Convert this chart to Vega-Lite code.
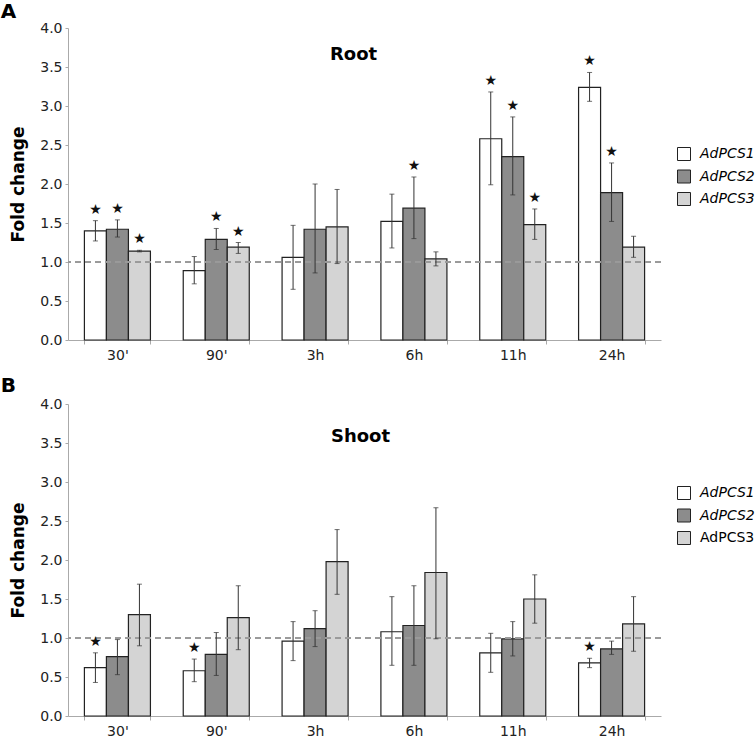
{
  "$schema": "https://vega.github.io/schema/vega-lite/v6.json",
  "padding": {"left": 0, "top": 2, "right": 0, "bottom": 0},
  "spacing": 14,
  "datasets": {
    "fc": [
      {"panel": "Root", "time": "30'", "gene": "AdPCS1", "value": 1.40, "lo": 1.27, "hi": 1.53, "sig": true},
      {"panel": "Root", "time": "30'", "gene": "AdPCS2", "value": 1.42, "lo": 1.32, "hi": 1.54, "sig": true},
      {"panel": "Root", "time": "30'", "gene": "AdPCS3", "value": 1.14, "lo": 1.13, "hi": 1.15, "sig": true},
      {"panel": "Root", "time": "90'", "gene": "AdPCS1", "value": 0.89, "lo": 0.72, "hi": 1.07, "sig": false},
      {"panel": "Root", "time": "90'", "gene": "AdPCS2", "value": 1.29, "lo": 1.16, "hi": 1.43, "sig": true},
      {"panel": "Root", "time": "90'", "gene": "AdPCS3", "value": 1.19, "lo": 1.11, "hi": 1.25, "sig": true},
      {"panel": "Root", "time": "3h", "gene": "AdPCS1", "value": 1.06, "lo": 0.65, "hi": 1.47, "sig": false},
      {"panel": "Root", "time": "3h", "gene": "AdPCS2", "value": 1.42, "lo": 0.86, "hi": 2.00, "sig": false},
      {"panel": "Root", "time": "3h", "gene": "AdPCS3", "value": 1.45, "lo": 0.98, "hi": 1.93, "sig": false},
      {"panel": "Root", "time": "6h", "gene": "AdPCS1", "value": 1.52, "lo": 1.18, "hi": 1.87, "sig": false},
      {"panel": "Root", "time": "6h", "gene": "AdPCS2", "value": 1.69, "lo": 1.30, "hi": 2.09, "sig": true},
      {"panel": "Root", "time": "6h", "gene": "AdPCS3", "value": 1.04, "lo": 0.95, "hi": 1.13, "sig": false},
      {"panel": "Root", "time": "11h", "gene": "AdPCS1", "value": 2.58, "lo": 1.99, "hi": 3.18, "sig": true},
      {"panel": "Root", "time": "11h", "gene": "AdPCS2", "value": 2.35, "lo": 1.86, "hi": 2.86, "sig": true},
      {"panel": "Root", "time": "11h", "gene": "AdPCS3", "value": 1.48, "lo": 1.29, "hi": 1.68, "sig": true},
      {"panel": "Root", "time": "24h", "gene": "AdPCS1", "value": 3.24, "lo": 3.06, "hi": 3.43, "sig": true},
      {"panel": "Root", "time": "24h", "gene": "AdPCS2", "value": 1.89, "lo": 1.52, "hi": 2.27, "sig": true},
      {"panel": "Root", "time": "24h", "gene": "AdPCS3", "value": 1.19, "lo": 1.06, "hi": 1.33, "sig": false},
      {"panel": "Shoot", "time": "30'", "gene": "AdPCS1", "value": 0.62, "lo": 0.43, "hi": 0.81, "sig": true},
      {"panel": "Shoot", "time": "30'", "gene": "AdPCS2", "value": 0.76, "lo": 0.53, "hi": 0.98, "sig": false},
      {"panel": "Shoot", "time": "30'", "gene": "AdPCS3", "value": 1.30, "lo": 0.90, "hi": 1.69, "sig": false},
      {"panel": "Shoot", "time": "90'", "gene": "AdPCS1", "value": 0.58, "lo": 0.44, "hi": 0.73, "sig": true},
      {"panel": "Shoot", "time": "90'", "gene": "AdPCS2", "value": 0.79, "lo": 0.52, "hi": 1.07, "sig": false},
      {"panel": "Shoot", "time": "90'", "gene": "AdPCS3", "value": 1.26, "lo": 0.85, "hi": 1.67, "sig": false},
      {"panel": "Shoot", "time": "3h", "gene": "AdPCS1", "value": 0.96, "lo": 0.71, "hi": 1.21, "sig": false},
      {"panel": "Shoot", "time": "3h", "gene": "AdPCS2", "value": 1.12, "lo": 0.89, "hi": 1.35, "sig": false},
      {"panel": "Shoot", "time": "3h", "gene": "AdPCS3", "value": 1.98, "lo": 1.56, "hi": 2.39, "sig": false},
      {"panel": "Shoot", "time": "6h", "gene": "AdPCS1", "value": 1.08, "lo": 0.65, "hi": 1.53, "sig": false},
      {"panel": "Shoot", "time": "6h", "gene": "AdPCS2", "value": 1.16, "lo": 0.65, "hi": 1.67, "sig": false},
      {"panel": "Shoot", "time": "6h", "gene": "AdPCS3", "value": 1.84, "lo": 0.99, "hi": 2.67, "sig": false},
      {"panel": "Shoot", "time": "11h", "gene": "AdPCS1", "value": 0.81, "lo": 0.56, "hi": 1.06, "sig": false},
      {"panel": "Shoot", "time": "11h", "gene": "AdPCS2", "value": 0.99, "lo": 0.77, "hi": 1.21, "sig": false},
      {"panel": "Shoot", "time": "11h", "gene": "AdPCS3", "value": 1.50, "lo": 1.19, "hi": 1.81, "sig": false},
      {"panel": "Shoot", "time": "24h", "gene": "AdPCS1", "value": 0.68, "lo": 0.62, "hi": 0.74, "sig": true},
      {"panel": "Shoot", "time": "24h", "gene": "AdPCS2", "value": 0.86, "lo": 0.79, "hi": 0.96, "sig": false},
      {"panel": "Shoot", "time": "24h", "gene": "AdPCS3", "value": 1.18, "lo": 0.83, "hi": 1.53, "sig": false}
    ]
  },
  "vconcat": [
    {
      "title": {"text": "A", "anchor": "start", "fontSize": 20, "fontWeight": "bold", "color": "#000", "dx": -9, "offset": -1},
      "vconcat": [
        {
          "width": 593,
          "height": 312,
          "title": {"text": "Root", "fontSize": 18, "fontWeight": "bold", "color": "#000", "offset": -43, "dx": -11},
          "data": {"name": "fc"},
          "transform": [{"filter": "datum.panel == 'Root'"}],
          "encoding": {
            "x": {"field": "time", "type": "nominal", "sort": ["30'", "90'", "3h", "6h", "11h", "24h"],
                  "scale": {"paddingInner": 0.332, "paddingOuter": 0.166},
                  "axis": {"title": null, "labelAngle": 0, "tickBand": "extent", "tickSize": 4, "labelPadding": 4}},
            "xOffset": {"field": "gene", "type": "nominal", "scale": {"paddingInner": 0, "paddingOuter": 0}}
          },
          "layer": [
            {
              "mark": {"type": "bar", "stroke": "#222", "strokeWidth": 1.2},
              "encoding": {
                "y": {"field": "value", "type": "quantitative", "scale": {"domain": [0, 4]},
                      "axis": {"title": "Fold change", "values": [0, 0.5, 1, 1.5, 2, 2.5, 3, 3.5, 4], "format": ".1f", "tickSize": 3, "labelPadding": 3, "titlePadding": 12}},
                "fill": {"field": "gene", "type": "nominal",
                         "scale": {"domain": ["AdPCS1", "AdPCS2", "AdPCS3"], "range": ["#ffffff", "#8c8c8c", "#d4d4d4"]},
                         "legend": {"title": null, "orient": "none", "legendX": 609, "legendY": 119, "labelFontStyle": "italic"}}
              }
            },
            {
              "mark": {"type": "rule", "color": "#9a9a9a", "strokeDash": [6, 4], "strokeWidth": 1},
              "encoding": {"y": {"datum": 1, "type": "quantitative", "axis": {"title": "Fold change", "values": [0, 0.5, 1, 1.5, 2, 2.5, 3, 3.5, 4], "format": ".1f", "tickSize": 3, "labelPadding": 3, "titlePadding": 12}}, "x": null, "xOffset": null}
            },
            {
              "mark": {"type": "rule", "color": "#333", "strokeWidth": 1},
              "encoding": {"y": {"field": "lo", "type": "quantitative", "axis": {"title": "Fold change", "values": [0, 0.5, 1, 1.5, 2, 2.5, 3, 3.5, 4], "format": ".1f", "tickSize": 3, "labelPadding": 3, "titlePadding": 12}}, "y2": {"field": "hi"}}
            },
            {
              "mark": {"type": "tick", "color": "#333", "size": 5, "thickness": 1},
              "encoding": {"y": {"field": "lo", "type": "quantitative", "axis": {"title": "Fold change", "values": [0, 0.5, 1, 1.5, 2, 2.5, 3, 3.5, 4], "format": ".1f", "tickSize": 3, "labelPadding": 3, "titlePadding": 12}}}
            },
            {
              "mark": {"type": "tick", "color": "#333", "size": 5, "thickness": 1},
              "encoding": {"y": {"field": "hi", "type": "quantitative", "axis": {"title": "Fold change", "values": [0, 0.5, 1, 1.5, 2, 2.5, 3, 3.5, 4], "format": ".1f", "tickSize": 3, "labelPadding": 3, "titlePadding": 12}}}
            },
            {
              "transform": [{"filter": "datum.sig"}],
              "mark": {"type": "text", "text": "★", "fontSize": 14, "baseline": "bottom", "dy": -4, "color": "#111"},
              "encoding": {"y": {"field": "hi", "type": "quantitative", "axis": {"title": "Fold change", "values": [0, 0.5, 1, 1.5, 2, 2.5, 3, 3.5, 4], "format": ".1f", "tickSize": 3, "labelPadding": 3, "titlePadding": 12}}}
            }
          ]
        }
      ]
    },
    {
      "title": {"text": "B", "anchor": "start", "fontSize": 20, "fontWeight": "bold", "color": "#000", "dx": -9, "offset": 1},
      "vconcat": [
        {
          "width": 593,
          "height": 312,
          "title": {"text": "Shoot", "fontSize": 18, "fontWeight": "bold", "color": "#000", "offset": -49, "dx": -4},
          "data": {"name": "fc"},
          "transform": [{"filter": "datum.panel == 'Shoot'"}],
          "encoding": {
            "x": {"field": "time", "type": "nominal", "sort": ["30'", "90'", "3h", "6h", "11h", "24h"],
                  "scale": {"paddingInner": 0.332, "paddingOuter": 0.166},
                  "axis": {"title": null, "labelAngle": 0, "tickBand": "extent", "tickSize": 4, "labelPadding": 4}},
            "xOffset": {"field": "gene", "type": "nominal", "scale": {"paddingInner": 0, "paddingOuter": 0}}
          },
          "layer": [
            {
              "mark": {"type": "bar", "stroke": "#222", "strokeWidth": 1.2},
              "encoding": {
                "y": {"field": "value", "type": "quantitative", "scale": {"domain": [0, 4]},
                      "axis": {"title": "Fold change", "values": [0, 0.5, 1, 1.5, 2, 2.5, 3, 3.5, 4], "format": ".1f", "tickSize": 3, "labelPadding": 3, "titlePadding": 12}},
                "fill": {"field": "gene", "type": "nominal",
                         "scale": {"domain": ["AdPCS1", "AdPCS2", "AdPCS3"], "range": ["#ffffff", "#8c8c8c", "#d4d4d4"]},
                         "legend": {"title": null, "orient": "none", "legendX": 609, "legendY": 82,
                                    "labelFontStyle": {"expr": "datum.label == 'AdPCS3' ? 'normal' : 'italic'"}}}
              }
            },
            {
              "mark": {"type": "rule", "color": "#9a9a9a", "strokeDash": [6, 4], "strokeWidth": 1},
              "encoding": {"y": {"datum": 1, "type": "quantitative", "axis": {"title": "Fold change", "values": [0, 0.5, 1, 1.5, 2, 2.5, 3, 3.5, 4], "format": ".1f", "tickSize": 3, "labelPadding": 3, "titlePadding": 12}}, "x": null, "xOffset": null}
            },
            {
              "mark": {"type": "rule", "color": "#333", "strokeWidth": 1},
              "encoding": {"y": {"field": "lo", "type": "quantitative", "axis": {"title": "Fold change", "values": [0, 0.5, 1, 1.5, 2, 2.5, 3, 3.5, 4], "format": ".1f", "tickSize": 3, "labelPadding": 3, "titlePadding": 12}}, "y2": {"field": "hi"}}
            },
            {
              "mark": {"type": "tick", "color": "#333", "size": 5, "thickness": 1},
              "encoding": {"y": {"field": "lo", "type": "quantitative", "axis": {"title": "Fold change", "values": [0, 0.5, 1, 1.5, 2, 2.5, 3, 3.5, 4], "format": ".1f", "tickSize": 3, "labelPadding": 3, "titlePadding": 12}}}
            },
            {
              "mark": {"type": "tick", "color": "#333", "size": 5, "thickness": 1},
              "encoding": {"y": {"field": "hi", "type": "quantitative", "axis": {"title": "Fold change", "values": [0, 0.5, 1, 1.5, 2, 2.5, 3, 3.5, 4], "format": ".1f", "tickSize": 3, "labelPadding": 3, "titlePadding": 12}}}
            },
            {
              "transform": [{"filter": "datum.sig"}],
              "mark": {"type": "text", "text": "★", "fontSize": 14, "baseline": "bottom", "dy": -4, "color": "#111"},
              "encoding": {"y": {"field": "hi", "type": "quantitative", "axis": {"title": "Fold change", "values": [0, 0.5, 1, 1.5, 2, 2.5, 3, 3.5, 4], "format": ".1f", "tickSize": 3, "labelPadding": 3, "titlePadding": 12}}}
            }
          ]
        }
      ]
    }
  ],
  "resolve": {"scale": {"fill": "independent"}, "legend": {"fill": "independent"}},
  "config": {
    "font": "DejaVu Sans",
    "view": {"stroke": null},
    "axis": {"domainColor": "#aaaaaa", "tickColor": "#aaaaaa", "labelColor": "#222", "labelFontSize": 14, "labelFont": "DejaVu Sans", "grid": false,
             "titleFont": "DejaVu Sans", "titleFontSize": 17, "titleFontWeight": "bold", "titleColor": "#000"},
    "legend": {"symbolType": "square", "symbolSize": 169, "symbolStrokeColor": "#222", "symbolStrokeWidth": 1,
               "labelFontSize": 14, "labelFont": "DejaVu Sans", "labelColor": "#000", "rowPadding": 4.5, "labelOffset": 9, "labelLimit": 0},
    "title": {"font": "DejaVu Sans"}
  }
}
